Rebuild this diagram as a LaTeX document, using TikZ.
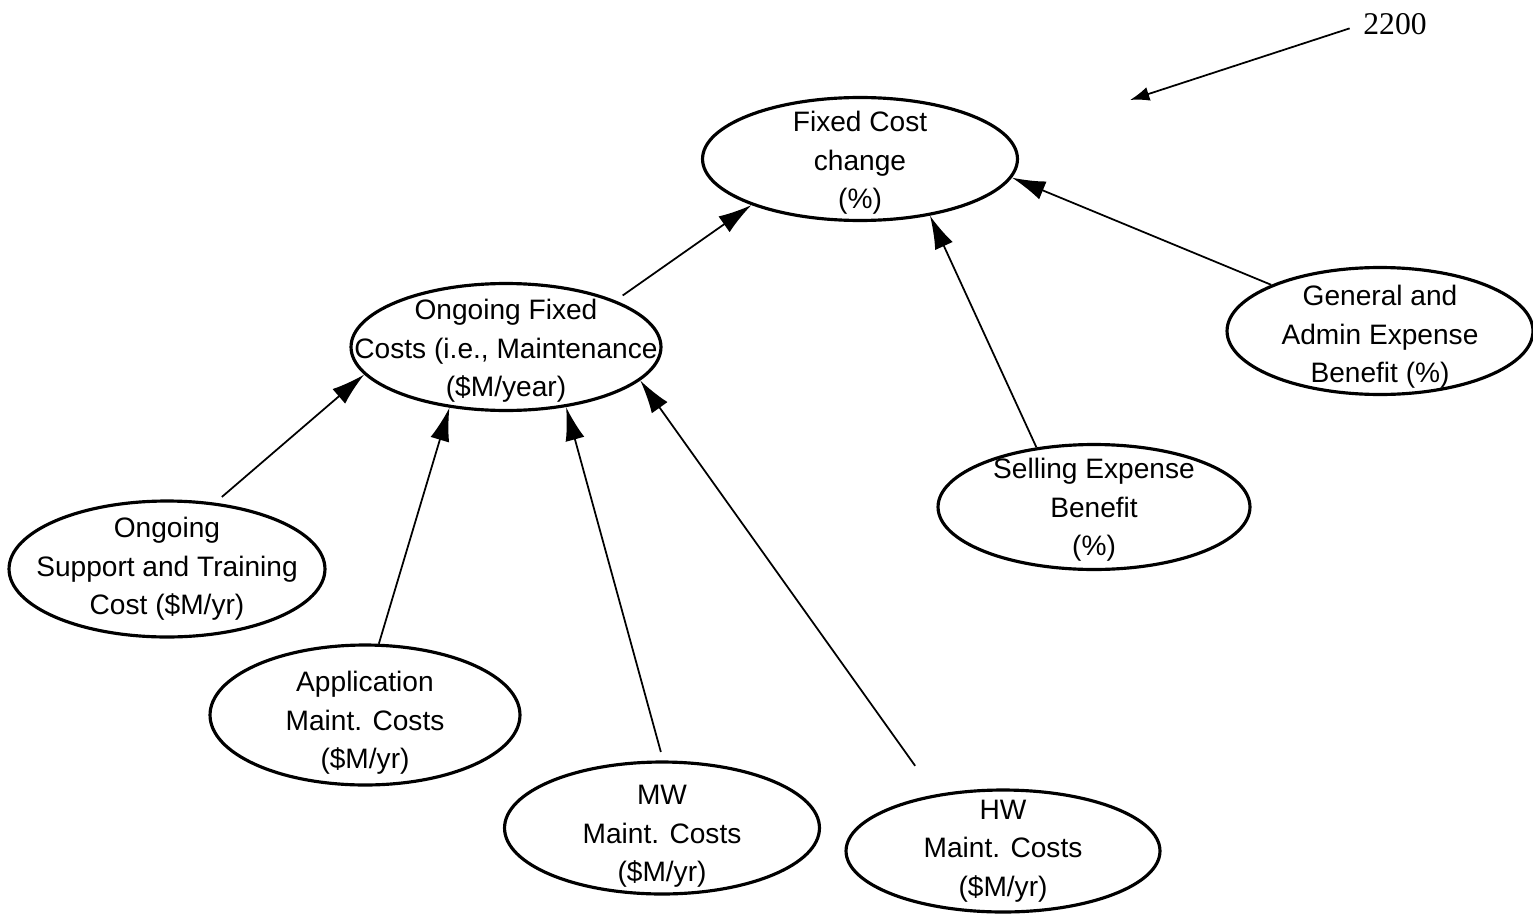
\documentclass[tikz,border=0pt]{standalone}
\usepackage{fontspec}
\newfontfamily\arialfont{Liberation Sans}
\newfontfamily\timesfont{Liberation Serif}
\usetikzlibrary{shapes.geometric,arrows.meta}
\tikzset{
  costnode/.style={ellipse, draw, line width=1.8pt, inner xsep=-40pt, inner ysep=-20pt,
    align=center, font=\arialfont\fontsize{16}{22}\selectfont},
  feeds/.style={-{Latex[length=19pt,width=11pt]}, line width=1pt}
}
% pushes the text of a node down a little
\newcommand{\toppad}[1]{\rule{0pt}{#1}}
\begin{document}
\begin{tikzpicture}[x=0.02cm, y=-0.02cm]
	\useasboundingbox (0,0) rectangle (1533,922);

	% Fixed cost
	\node[costnode, minimum width=6.3cm, minimum height=2.46cm] (fcc) at (860,159) {\toppad{16pt}Fixed Cost\\change\\(\%)};
	\node[costnode, minimum width=6.2cm, minimum height=2.54cm] (ofc) at (506,347) {\toppad{16pt}Ongoing Fixed\\Costs (i.e., Maintenance\\(\$M/year)};
	\node[costnode, minimum width=6.12cm, minimum height=2.54cm] (gen) at (1380,331) {\toppad{18.5pt}General and\\Admin Expense\\Benefit (\%)};
	\node[costnode, minimum width=6.24cm, minimum height=2.5cm] (sel) at (1094,507) {\toppad{15pt}Selling Expense\\Benefit\\(\%)};

	% Maintenance
	\node[costnode, minimum width=6.32cm, minimum height=2.72cm] (sup) at (167,569) {Ongoing\\Support and Training\\Cost (\$M/yr)};
	\node[costnode, minimum width=6.2cm, minimum height=2.8cm] (app) at (365,715) {\toppad{20.5pt}Application\\Maint. Costs\\(\$M/yr)};
	\node[costnode, minimum width=6.3cm, minimum height=2.64cm] (mw) at (662,828) {\toppad{20.5pt}MW\\Maint. Costs\\(\$M/yr)};
	\node[costnode, minimum width=6.28cm, minimum height=2.44cm] (hw) at (1003,851) {HW\\Maint. Costs\\(\$M/yr)};

	% Links
	\draw[feeds, shorten <=5pt] (sup.54) -- (ofc.191);
	\draw[feeds] (app.79) -- (ofc.227);
	\draw[feeds, shorten <=5pt] (mw.89) -- (ofc.315);
	\draw[feeds, shorten <=20pt] (hw.140) -- (ofc.346);
	\draw[feeds, shorten <=5pt] (ofc.23) -- (fcc.203);
	\draw[feeds] (sel.134) -- (fcc.321);
	\draw[feeds] (gen.157) -- (fcc.353);

	% Figure number
	\node[font=\timesfont\fontsize{18}{18}\selectfont, inner sep=0pt] (fignum) at (1395,24) {2200};
	\coordinate (figtip) at (1130,100);
	\draw[-{Latex[length=11pt,width=8pt]}, line width=1pt, shorten <=8pt] (fignum.west) -- (figtip);
\end{tikzpicture}
\end{document}
